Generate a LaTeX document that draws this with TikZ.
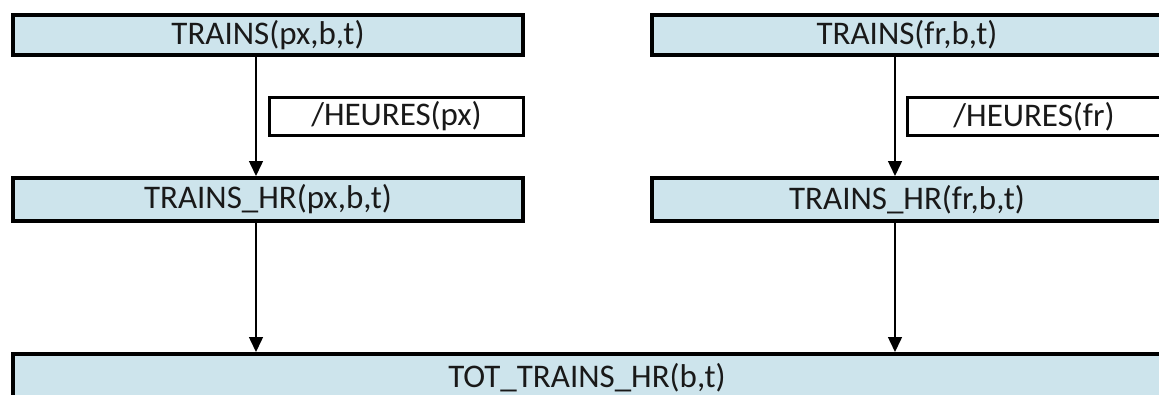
\documentclass[tikz,border=0pt]{standalone}
\usepackage{fontspec}
\setmainfont{Carlito}
\usetikzlibrary{arrows.meta}
\definecolor{boxfill}{RGB}{205,228,236}
\tikzset{
  stagebox/.style={draw=black, line width=4pt, fill=boxfill, inner sep=0pt,
    font=\fontsize{33}{38}\selectfont, text=black!90},
  opbox/.style={draw=black, line width=3pt, fill=white, inner sep=0pt,
    font=\fontsize{33}{38}\selectfont, text=black!90, minimum height=38pt},
  flow/.style={line width=1.5pt, -{Triangle[width=14pt,length=15pt]}}
}
% text centred in a given width, followed by a run-off beyond the page edge
\newcommand{\runoff}[2]{\makebox[#1][c]{#2}\kern20pt\relax}
\begin{document}
\begin{tikzpicture}[x=1pt,y=-1pt]
  \useasboundingbox (0,0) rectangle (1159,394);
  \clip (0,0) rectangle (1159,394);
  % source series
  \node[stagebox, minimum width=510pt, minimum height=40pt] (tpx) at (268,35) {TRAINS(px,b,t)};
  \node[stagebox, minimum height=40pt] (tfr) at (917,35) {\runoff{510pt}{TRAINS(fr,b,t)}};
  % divisors
  \node[opbox, minimum width=254pt] (hpx) at (396.5,116.5) {/HEURES(px)};
  \node[opbox] (hfr) at (1044,116.5) {\runoff{254pt}{/HEURES(fr)}};
  % per-hour series
  \node[stagebox, minimum width=510pt, minimum height=43pt] (mpx) at (268,199.5) {TRAINS\_HR(px,b,t)};
  \node[stagebox, minimum height=43pt] (mfr) at (917,199.5) {\runoff{510pt}{TRAINS\_HR(fr,b,t)}};
  % total
  \node[stagebox, minimum height=48pt] (tot) at (597,378) {\runoff{1148pt}{TOT\_TRAINS\_HR(b,t)}};
  % connectors
  \draw[flow] ([xshift=-22pt]tfr.south) -- ([xshift=-22pt]mfr.north);
  \draw[flow] ([xshift=-12pt]tpx.south) -- ([xshift=-12pt]mpx.north);
  \draw[flow] ([xshift=-12pt]mpx.south) -- ([xshift=-12pt]mpx.south |- tot.north);
  \draw[flow] ([xshift=-22pt]mfr.south) -- ([xshift=-22pt]mfr.south |- tot.north);
\end{tikzpicture}
\end{document}
